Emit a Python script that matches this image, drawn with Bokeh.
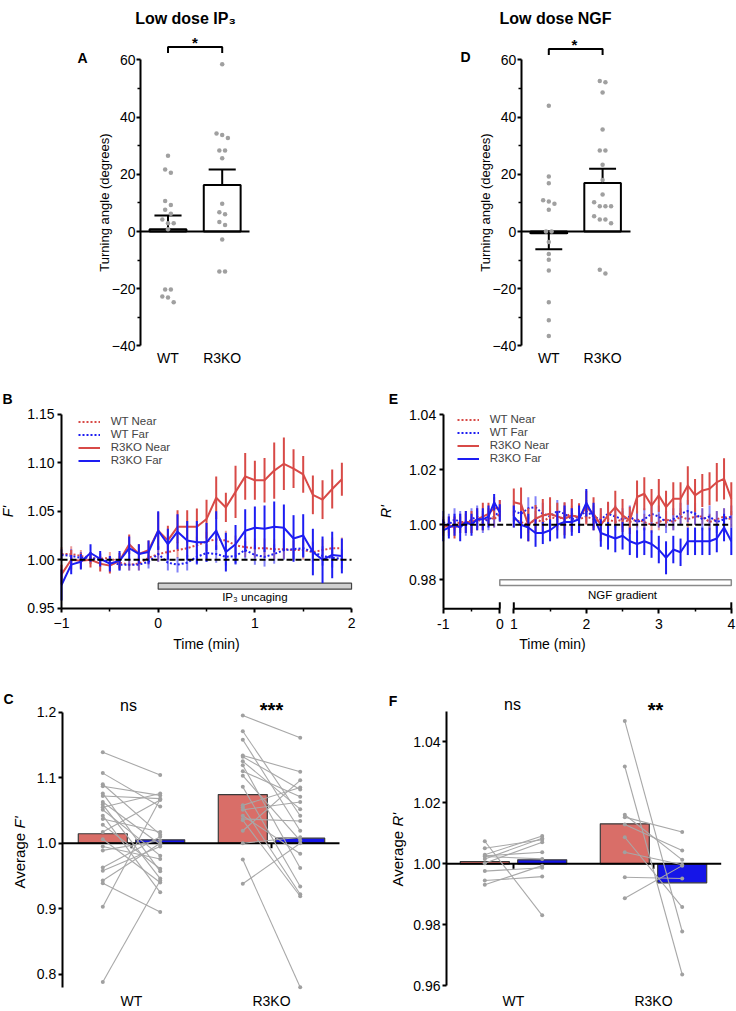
import math
from bokeh.plotting import figure
from bokeh.models import (Range1d, FixedTicker, Label, Legend, LegendItem, LinearAxis,
                          CustomJSTickFormatter, NumeralTickFormatter)
from bokeh.layouts import row, column
from bokeh.embed import file_html
from bokeh.resources import INLINE
from bokeh.core.properties import value

FONT = "Liberation Sans"
RED = "#d84a47"
BLUE = "#1d1df2"
BAR_RED = "#d96e68"
BAR_BLUE = "#1515e8"
DOT = "#a0a0a0"
PAIR = "#a8a8a8"

# ---------------- data ----------------
categories = ["WT", "R3KO"]
cat_x = [1, 2]

# A: low dose IP3, turning angle (degrees)
a_wt = [26.5, 21.7, 20.5, 10.7, 9.3, 7.6, 6.2, 4.2, 2.9, 2.9, 0.8,
        -20.3, -20.3, -22.7, -23.1, -24.7]
a_r3ko = [58.5, 34.3, 33.7, 32.7, 28.3, 28.3, 25.6, 9.7, 6.7, 6.0, 3.3, 2.3,
          -2.8, -14.0, -14.0]
a_mean = [0.8, 16.3]
a_sem = [4.8, 5.4]

# D: low dose NGF, turning angle (degrees)
d_wt = [44.0, 19.2, 16.9, 10.9, 10.5, 9.7, 7.6, 0.0, 0.0, -3.7, -7.9, -9.9,
        -13.6, -24.7, -31.0, -36.5]
d_r3ko = [52.6, 52.2, 48.6, 35.7, 28.3, 28.3, 23.3, 18.0, 12.9, 10.2, 8.8, 8.8,
          8.8, 5.3, 4.2, 4.2, 2.9, -13.4, -14.7]
d_mean = [-0.6, 17.0]
d_sem = [5.6, 4.9]

# B: F' time course (min)
t_b = [-1.0, -0.9, -0.8, -0.7, -0.6, -0.5, -0.4, -0.3, -0.2, -0.1, 0.0, 0.1,
       0.2, 0.3, 0.4, 0.5, 0.6, 0.7, 0.8, 0.9, 1.0, 1.1, 1.2, 1.3, 1.4, 1.5,
       1.6, 1.7, 1.8, 1.9]
b_wt_near = [1.006, 1.006, 1.004, 1.002, 1.001, 1.002, 0.997, 0.995, 0.996, 1.002,
             1.006, 1.008, 1.010, 1.012, 1.015, 1.019, 1.021, 1.020, 1.015, 1.013,
             1.012, 1.012, 1.011, 1.011, 1.010, 1.010, 1.008, 1.010, 1.012, 1.012]
b_wt_near_sem = [0.007, 0.008, 0.006, 0.006, 0.006, 0.006, 0.007, 0.006, 0.007, 0.007,
                 0.008, 0.008, 0.008, 0.009, 0.009, 0.010, 0.010, 0.010, 0.010, 0.010,
                 0.010, 0.010, 0.010, 0.010, 0.010, 0.010, 0.011, 0.011, 0.011, 0.011]
b_wt_far = [1.005, 1.004, 1.002, 1.002, 1.000, 0.998, 0.995, 0.995, 0.995, 0.998,
            1.006, 0.997, 0.995, 0.997, 1.003, 1.007, 1.006, 1.003, 1.004, 1.010,
            1.005, 1.003, 1.006, 1.010, 1.011, 1.012, 1.008, 1.004, 1.002, 1.001]
b_wt_far_sem = [0.006, 0.007, 0.006, 0.006, 0.006, 0.006, 0.006, 0.006, 0.006, 0.007,
                0.008, 0.008, 0.008, 0.008, 0.008, 0.009, 0.009, 0.009, 0.009, 0.009,
                0.010, 0.010, 0.010, 0.010, 0.010, 0.010, 0.010, 0.010, 0.010, 0.010]
b_ko_near = [0.985, 1.000, 0.999, 1.000, 0.996, 0.994, 0.999, 1.016, 1.006, 1.010,
             1.030, 1.020, 1.034, 1.034, 1.034, 1.042, 1.064, 1.054, 1.070, 1.086,
             1.082, 1.082, 1.092, 1.099, 1.094, 1.088, 1.067, 1.062, 1.073, 1.083]
b_ko_near_sem = [0.010, 0.010, 0.008, 0.008, 0.008, 0.008, 0.008, 0.010, 0.010, 0.010,
                 0.019, 0.015, 0.017, 0.017, 0.019, 0.020, 0.022, 0.015, 0.027, 0.024,
                 0.020, 0.023, 0.029, 0.027, 0.020, 0.019, 0.020, 0.020, 0.020, 0.017]
b_ko_far = [0.974, 0.995, 0.998, 1.007, 1.001, 0.996, 0.999, 1.012, 1.006, 1.008,
            1.030, 1.016, 1.029, 1.020, 1.018, 1.018, 1.030, 1.008, 1.016, 1.030,
            1.033, 1.032, 1.034, 1.033, 1.022, 1.025, 1.008, 1.000, 1.005, 1.004]
b_ko_far_sem = [0.016, 0.010, 0.008, 0.009, 0.008, 0.008, 0.010, 0.012, 0.010, 0.012,
                0.020, 0.016, 0.018, 0.020, 0.022, 0.020, 0.020, 0.020, 0.020, 0.022,
                0.022, 0.024, 0.026, 0.024, 0.024, 0.022, 0.024, 0.024, 0.024, 0.018]
uncaging = (0.0, 2.0)

# E: R' time course (min), broken axis between 0 and 1
t_e1 = [-1.0, -0.9, -0.8, -0.7, -0.6, -0.5, -0.4, -0.3, -0.2, -0.1, 0.0]
t_e2 = [1.0, 1.1, 1.2, 1.3, 1.4, 1.5, 1.6, 1.7, 1.8, 1.9, 2.0, 2.1, 2.2, 2.3,
        2.4, 2.5, 2.6, 2.7, 2.8, 2.9, 3.0, 3.1, 3.2, 3.3, 3.4, 3.5, 3.6, 3.7,
        3.8, 3.9, 4.0]
e_wt_near1 = [1.000, 0.999, 1.000, 1.001, 1.001, 1.000, 1.002, 1.001, 1.003, 1.002, 1.004]
e_wt_near2 = [1.002, 1.001, 1.000, 1.002, 1.001, 1.003, 1.002, 1.003, 1.004, 1.002,
              1.003, 1.002, 1.001, 1.002, 1.001, 1.002, 1.001, 1.002, 1.001, 1.000,
              1.001, 1.002, 1.001, 1.003, 1.002, 1.003, 1.003, 1.001, 1.002, 1.003, 1.002]
e_wt_near_sem1 = [0.003, 0.003, 0.003, 0.003, 0.003, 0.003, 0.003, 0.003, 0.003, 0.003, 0.003]
e_wt_near_sem2 = [0.003, 0.003, 0.003, 0.003, 0.003, 0.003, 0.003, 0.003, 0.003, 0.003,
                  0.003, 0.003, 0.003, 0.003, 0.003, 0.003, 0.003, 0.003, 0.003, 0.003,
                  0.003, 0.003, 0.003, 0.003, 0.003, 0.003, 0.003, 0.003, 0.003, 0.003, 0.003]
e_wt_far1 = [1.001, 1.000, 1.002, 1.001, 1.000, 1.002, 1.003, 1.001, 1.002, 1.003, 1.005]
e_wt_far2 = [1.005, 1.004, 1.006, 1.0064, 1.004, 1.003, 1.005, 1.004, 1.002, 1.003,
             1.005, 1.003, 1.002, 1.004, 1.003, 1.002, 1.003, 1.001, 1.002, 1.004,
             1.003, 1.001, 1.002, 1.004, 1.005, 1.004, 1.002, 1.003, 1.001, 1.002, 1.003]
e_wt_far_sem1 = [0.004, 0.004, 0.004, 0.004, 0.004, 0.004, 0.004, 0.004, 0.004, 0.004, 0.004]
e_wt_far_sem2 = [0.004, 0.004, 0.004, 0.004, 0.004, 0.004, 0.004, 0.004, 0.004, 0.004,
                 0.004, 0.004, 0.004, 0.004, 0.004, 0.004, 0.004, 0.004, 0.004, 0.004,
                 0.004, 0.004, 0.004, 0.004, 0.004, 0.004, 0.004, 0.004, 0.004, 0.004, 0.004]
e_ko_near1 = [0.999, 1.000, 0.999, 1.000, 1.001, 1.001, 1.002, 1.003, 1.004, 1.006, 1.006]
e_ko_near2 = [1.0082, 1.0076, 1.0000, 1.0022, 1.0034, 1.0040, 1.0030, 1.0022, 1.0034, 1.0028,
              1.0064, 1.0040, 1.0000, 1.0034, 1.0064, 1.0034, 1.0016, 1.0101, 1.0113, 1.0070,
              1.0107, 1.0064, 1.0095, 1.0095, 1.0143, 1.0107, 1.0125, 1.0131, 1.0155, 1.0167,
              1.0095]
e_ko_near_sem1 = [0.003, 0.003, 0.004, 0.003, 0.004, 0.004, 0.004, 0.005, 0.004, 0.004, 0.003]
e_ko_near_sem2 = [0.005, 0.006, 0.006, 0.005, 0.006, 0.006, 0.005, 0.006, 0.006, 0.005,
                  0.006, 0.006, 0.006, 0.005, 0.006, 0.006, 0.005, 0.006, 0.006, 0.006,
                  0.006, 0.006, 0.006, 0.006, 0.007, 0.006, 0.006, 0.006, 0.007, 0.0075, 0.006]
e_ko_far1 = [0.998, 0.999, 1.000, 0.999, 1.001, 1.000, 1.002, 1.002, 1.003, 1.0082, 1.0045]
e_ko_far2 = [1.003, 1.000, 0.999, 0.997, 0.997, 0.998, 1.000, 1.001, 1.001, 1.002,
             1.008, 1.003, 0.997, 0.996, 0.995, 0.996, 0.994, 0.993, 0.994, 0.993,
             0.991, 0.988, 0.991, 0.990, 0.994, 0.994, 0.994, 0.994, 0.995, 0.999, 0.994]
e_ko_far_sem1 = [0.004, 0.004, 0.004, 0.005, 0.004, 0.004, 0.004, 0.004, 0.004, 0.003, 0.003]
e_ko_far_sem2 = [0.004, 0.005, 0.005, 0.005, 0.004, 0.004, 0.005, 0.006, 0.005, 0.005,
                 0.005, 0.005, 0.005, 0.005, 0.005, 0.005, 0.005, 0.005, 0.005, 0.005,
                 0.005, 0.006, 0.005, 0.005, 0.005, 0.005, 0.005, 0.005, 0.005, 0.005, 0.005]
ngf_gradient = (0.0, 4.0)

# C: average F' per cell (paired near / far)
c_near_mean = [1.0144, 1.0743]
c_far_mean = [1.0052, 1.0076]
c_wt_near = [1.139, 1.107, 1.090, 1.087, 1.076, 1.072, 1.063, 1.059, 1.055, 1.051, 1.042,
             1.037, 1.028, 1.017, 1.006, 0.995, 0.989, 0.963, 0.958, 0.943, 0.939, 0.903, 0.788]
c_wt_far = [1.104, 1.056, 1.013, 1.073, 0.957, 1.068, 0.998, 0.946, 1.076, 0.981, 0.925,
            1.017, 0.961, 1.066, 0.940, 0.976, 1.004, 1.010, 0.995, 1.000, 0.895, 1.067, 0.943]
c_ko_near = [1.195, 1.171, 1.158, 1.134, 1.132, 1.125, 1.119, 1.110, 1.103, 1.086, 1.058,
             1.055, 1.051, 1.042, 1.037, 1.035, 1.019, 1.000, 0.975, 0.938]
c_ko_far = [1.161, 1.042, 1.019, 1.109, 1.082, 1.052, 0.962, 1.071, 1.004, 0.934, 1.085,
            0.922, 1.063, 0.984, 1.034, 0.919, 1.096, 1.009, 0.780, 1.000]

# F: average R' per cell (paired near / far)
f_near_mean = [1.00075, 1.0131]
f_far_mean = [1.0013, 0.99377]
f_wt_near = [1.0074, 1.0051, 1.0030, 1.0024, 1.0016, 1.0026, 1.0002, 0.9976, 0.9945, 0.9931]
f_wt_far = [0.9831, 1.0079, 1.0091, 1.0016, 1.0084, 1.0038, 1.0071, 0.9987, 0.9958, 0.9994]
f_ko_near = [1.0468, 1.0319, 1.0161, 1.0153, 1.0129, 1.0087, 1.0038, 0.9956, 0.9887]
f_ko_far = [0.9778, 0.9637, 1.0013, 1.0104, 1.0044, 0.9858, 0.9997, 0.9952, 0.9994]


# ---------------- helpers ----------------
def make_fig(canvas, xref, yref):
    """Figure whose frame fills the canvas; xref/yref = (pixel, value, px per unit)."""
    cx, cy, cw, ch = canvas
    xpx0, xv0, xs = xref
    ypx0, yv0, ys = yref
    xr = Range1d(xv0 + (cx - xpx0) / xs, xv0 + (cx + cw - xpx0) / xs)
    yr = Range1d(yv0 - (cy + ch - ypx0) / ys, yv0 + (ypx0 - cy) / ys)
    p = figure(width=cw, height=ch, x_range=xr, y_range=yr, title=None,
               x_axis_location=None, y_axis_location=None, min_border=0,
               output_backend="svg", toolbar_location=None, tools="")
    p.outline_line_color = None
    for g in p.grid:
        g.visible = False

    def pix(ix, iy):
        return xv0 + (ix - xpx0) / xs, yv0 + (ypx0 - iy) / ys
    return p, pix


def label(p, pix, ix, iy, text, size, style="normal", align="center",
          baseline="middle", angle=0.0):
    x, y = pix(ix, iy)
    p.add_layout(Label(x=x, y=y, text=text, text_font=FONT,
                       text_font_size=f"{size}px", text_font_style=style,
                       text_align=align, text_baseline=baseline, angle=angle,
                       text_color="black"))


def add_axis(p, side, loc, ticker, formatter=None, bounds=None, tick_out=4,
             minor_out=0, standoff=2, size=14, axis_label=None, label_standoff=5,
             label_style="normal", label_size=14, show_line=True, overrides=None):
    ax = LinearAxis(fixed_location=loc, ticker=ticker)
    if formatter is not None:
        ax.formatter = formatter
    if bounds is not None:
        ax.bounds = bounds
    ax.axis_line_width = 2
    ax.axis_line_color = "black" if show_line else None
    ax.major_tick_line_width = 2
    ax.minor_tick_line_width = 1.5
    ax.major_tick_in = 0
    ax.major_tick_out = tick_out
    ax.minor_tick_in = 0
    ax.minor_tick_out = minor_out
    if tick_out == 0:
        ax.major_tick_line_color = None
    if minor_out == 0:
        ax.minor_tick_line_color = None
    ax.major_label_standoff = standoff
    ax.major_label_text_font = FONT
    ax.major_label_text_font_size = f"{size}px"
    ax.major_label_text_color = "black"
    if overrides is not None:
        ax.major_label_overrides = overrides
    if axis_label is not None:
        ax.axis_label = axis_label
        ax.axis_label_text_font = FONT
        ax.axis_label_text_font_size = f"{label_size}px"
        ax.axis_label_text_font_style = label_style
        ax.axis_label_text_color = "black"
        ax.axis_label_standoff = label_standoff
    p.add_layout(ax, side)
    return ax


def category_axis(p, y_loc, standoff):
    return add_axis(p, "below", y_loc, FixedTicker(ticks=cat_x), tick_out=0,
                    standoff=standoff, show_line=False,
                    overrides={c: n for c, n in zip(cat_x, categories)})


def swarm(vals, cat, tol, step):
    order = sorted(range(len(vals)), key=lambda i: -vals[i])
    xs = [0.0] * len(vals)
    groups, cur = [], [order[0]]
    for i in order[1:]:
        if abs(vals[i] - vals[cur[-1]]) < tol:
            cur.append(i)
        else:
            groups.append(cur)
            cur = [i]
    groups.append(cur)
    for g in groups:
        n = len(g)
        for k, i in enumerate(g):
            xs[i] = cat + (k - (n - 1) / 2) * step
    return xs


# ---------------- A / D: turning angle ----------------
def angle_panel(canvas, xref, axis_px, zero_px, wt, ko, means, sems, title, title_px,
                letter, letter_px, bracket_px, star_px, label_standoff):
    p, pix = make_fig(canvas, xref, (231.0, 0.0, 2.86))
    x_axis = pix(axis_px, 0)[0]
    x_zero_end = pix(zero_px, 0)[0]
    add_axis(p, "left", x_axis,
             FixedTicker(ticks=[-40, -20, 0, 20, 40, 60], minor_ticks=[-30, -10, 10, 30, 50]),
             bounds=(-40, 60), tick_out=4, minor_out=3, standoff=1,
             axis_label="Turning angle (degrees)", label_size=13,
             label_standoff=label_standoff)
    category_axis(p, -40, 4)

    p.vbar(x=cat_x, top=means, bottom=0, width=0.68, fill_color="white",
           line_color="black", line_width=2)
    p.segment(x0=[x_axis], y0=[0], x1=[x_zero_end], y1=[0],
              line_color="black", line_width=2)
    ends = [m + (s if m >= 0 else -s) for m, s in zip(means, sems)]
    p.segment(x0=cat_x, y0=means, x1=cat_x, y1=ends, line_color="black", line_width=2)
    p.segment(x0=[c - 0.25 for c in cat_x], y0=ends, x1=[c + 0.25 for c in cat_x],
              y1=ends, line_color="black", line_width=2)
    for c, vals in zip(cat_x, [wt, ko]):
        xs = swarm(vals, c, 1.6, 0.105)
        p.scatter(xs, vals, size=4.5, color=DOT, line_color=None)
    _, yb_top = pix(0, bracket_px[0])
    _, yb_low = pix(0, bracket_px[1])
    p.line([cat_x[0], cat_x[0], cat_x[1], cat_x[1]], [yb_low, yb_top, yb_top, yb_low],
           line_color="black", line_width=2)
    label(p, pix, star_px[0], star_px[1], "*", 15, style="bold", baseline="alphabetic")
    label(p, pix, title_px[0], title_px[1], title, 16, style="bold")
    label(p, pix, letter_px[0], letter_px[1], letter, 14, style="bold")
    return p


pA = angle_panel((0, 0, 368, 375), (167.5, 1, 54.2), 140, 249,
                 a_wt, a_r3ko, a_mean, a_sem, "Low dose IP\u2083", (185, 18),
                 "A", (82, 57), (46.5, 52.5), (194.5, 42), -3)
pD = angle_panel((368, 0, 368, 375), (548.3, 1, 53.8), 520.7, 630,
                 d_wt, d_r3ko, d_mean, d_sem, "Low dose NGF", (555, 18),
                 "D", (465, 56), (48.5, 54.5), (574, 44), -3)


# ---------------- B / E: time courses ----------------
def add_series(p, xs, m, s, color, dash, err_alpha):
    lo = [a - b if not math.isnan(a) else a for a, b in zip(m, s)]
    hi = [a + b if not math.isnan(a) else a for a, b in zip(m, s)]
    p.segment(x0=xs, y0=lo, x1=xs, y1=hi, line_color=color, line_width=2,
              line_alpha=err_alpha)
    return p.line(xs, m, line_color=color, line_width=2, line_dash=dash,
                  line_join="round")


def add_legend(p, renderers, loc):
    names = ["WT Near", "WT Far", "R3KO Near", "R3KO Far"]
    leg = Legend(items=[LegendItem(label=n, renderers=[r]) for n, r in zip(names, renderers)],
                 location=loc, label_text_font=FONT, label_text_font_size="11.5px",
                 glyph_width=22, glyph_height=13, label_height=13, label_standoff=11,
                 spacing=0, padding=0, margin=0, border_line_color=None,
                 background_fill_alpha=0)
    p.add_layout(leg)


# B
pB, pixB = make_fig((0, 375, 368, 290), (157.7, 0.0, 96.67), (559.3, 1.0, 970.0))
add_axis(pB, "left", -1.0, FixedTicker(ticks=[0.95, 1.00, 1.05, 1.10, 1.15]),
         formatter=NumeralTickFormatter(format="0.00"), bounds=(0.95, 1.15),
         tick_out=4, standoff=3, axis_label="F'", label_style="italic", label_standoff=8)
add_axis(pB, "below", 0.95, FixedTicker(ticks=[-1, 0, 1, 2], minor_ticks=[-0.5, 0.5, 1.5]),
         bounds=(-1, 2), tick_out=4, minor_out=3, standoff=6,
         axis_label="Time (min)", label_standoff=4)

pB.quad(left=[uncaging[0]], right=[uncaging[1]], bottom=[0.9697], top=[0.9759],
        fill_color="#d0d0d0", line_color="#444444", line_width=1.2)
pB.text(x=[(uncaging[0] + uncaging[1]) / 2], y=[0.9614], text=["IP\u2083 uncaging"],
        text_font=value(FONT), text_font_size=value("11.5px"), text_align="center",
        text_baseline="middle", text_color="black")
rb1 = add_series(pB, t_b, b_wt_near, b_wt_near_sem, RED, "2 2", 0.55)
rb2 = add_series(pB, t_b, b_wt_far, b_wt_far_sem, BLUE, "2 2", 0.55)
rb3 = add_series(pB, t_b, b_ko_near, b_ko_near_sem, RED, "solid", 1.0)
rb4 = add_series(pB, t_b, b_ko_far, b_ko_far_sem, BLUE, "solid", 1.0)
pB.line([-1.0, 2.0], [1.0, 1.0], line_color="black", line_width=2, line_dash="6 3")
add_legend(pB, [rb1, rb2, rb3, rb4], (77.7, 198.2))
label(pB, pixB, 7, 398, "B", 14, style="bold")

# E with broken time axis: pre-period (-1..0) compressed, gap, then 1..4
R1 = 56.6 / 72.5
G = 14.0 / 72.5


def u_of(t):
    return t * R1 if t <= 0 else (t - 1.0) + G


pE, pixE = make_fig((368, 375, 368, 290), (499.3, 0.0, 72.5), (524.3, 1.0, 2750.0))
y_axis_line = pixE(0, 608.3)[1]
add_axis(pE, "left", u_of(-1.0), FixedTicker(ticks=[0.98, 1.00, 1.02, 1.04]),
         formatter=NumeralTickFormatter(format="0.00"), bounds=(y_axis_line, 1.04),
         tick_out=4, standoff=3, axis_label="R'", label_style="italic", label_standoff=12)
add_axis(pE, "below", y_axis_line,
         FixedTicker(ticks=[u_of(t) for t in [-1, 0, 1, 2, 3, 4]],
                     minor_ticks=[u_of(t) for t in [-0.5, 1.5, 2.5, 3.5]]),
         formatter=CustomJSTickFormatter(
             args=dict(r1=R1, g=G),
             code="const t = tick < 0.1 ? tick / r1 : tick - g + 1; return String(Math.round(t));"),
         tick_out=5, minor_out=3, standoff=5, show_line=False,
         axis_label="Time (min)", label_standoff=4)

cap = 6.5 / 2750.0
pE.segment(x0=[u_of(t_e1[0]), u_of(t_e2[0])], y0=[y_axis_line] * 2,
           x1=[u_of(t_e1[-1]), u_of(t_e2[-1])], y1=[y_axis_line] * 2,
           line_color="black", line_width=2)
cap_x = [u_of(t_e1[-1]), u_of(t_e2[0]), u_of(t_e2[-1])]
pE.segment(x0=cap_x, y0=[y_axis_line] * 3, x1=cap_x, y1=[y_axis_line + cap] * 3,
           line_color="black", line_width=2)

pE.quad(left=[u_of(ngf_gradient[0])], right=[u_of(ngf_gradient[1])], bottom=[0.9779],
        top=[0.9800], fill_color="white", line_color="#8a8a8a", line_width=1.5)
pE.text(x=[u_of(2.5)], y=[0.9745], text=["NGF gradient"], text_font=value(FONT),
        text_font_size=value("11.5px"), text_align="center", text_baseline="middle",
        text_color="black")
ue = [u_of(t) for t in t_e1] + [float("nan")] + [u_of(t) for t in t_e2]
nan = [float("nan")]
re1 = add_series(pE, ue, e_wt_near1 + nan + e_wt_near2, e_wt_near_sem1 + [0] + e_wt_near_sem2,
                 RED, "2 2", 0.55)
re2 = add_series(pE, ue, e_wt_far1 + nan + e_wt_far2, e_wt_far_sem1 + [0] + e_wt_far_sem2,
                 BLUE, "2 2", 0.55)
re3 = add_series(pE, ue, e_ko_near1 + nan + e_ko_near2, e_ko_near_sem1 + [0] + e_ko_near_sem2,
                 RED, "solid", 1.0)
re4 = add_series(pE, ue, e_ko_far1 + nan + e_ko_far2, e_ko_far_sem1 + [0] + e_ko_far_sem2,
                 BLUE, "solid", 1.0)
pE.line([u_of(-1.0), u_of(4.0)], [1.0, 1.0], line_color="black", line_width=2,
        line_dash="6 3")
add_legend(pE, [re1, re2, re3, re4], (88.7, 200.2))
label(pE, pixE, 393, 398, "E", 14, style="bold")


# ---------------- C / F: paired averages ----------------
def paired_panel(canvas, xref, yref, axis_px, ticks, fmt, bounds, near_mean, far_mean,
                 wt_near, wt_far, ko_near, ko_far, sig, sig_px, letter, letter_px,
                 ylab, ylab_px, zero_px, cat_standoff):
    p, pix = make_fig(canvas, xref, yref)
    x_axis = pix(axis_px, 0)[0]
    add_axis(p, "left", x_axis, FixedTicker(ticks=ticks),
             formatter=NumeralTickFormatter(format=fmt), bounds=bounds,
             tick_out=4, standoff=2)
    category_axis(p, bounds[0], cat_standoff)
    off, w = 0.205, 0.35
    p.vbar(x=[c - off for c in cat_x], top=near_mean, bottom=1.0, width=w,
           fill_color=BAR_RED, line_color="#3a3a3a", line_width=1.2)
    p.vbar(x=[c + off for c in cat_x], top=far_mean, bottom=1.0, width=w,
           fill_color=BAR_BLUE, line_color="#3a3a3a", line_width=1.2)
    p.segment(x0=[x_axis], y0=[1.0], x1=[pix(zero_px, 0)[0]], y1=[1.0],
              line_color="black", line_width=2)
    tick_len = (pix(0, 0)[1] - pix(0, 5)[1])
    p.segment(x0=cat_x, y0=[1.0] * 2, x1=cat_x, y1=[1.0 - tick_len] * 2,
              line_color="black", line_width=2)
    for c, nv, fv in [(cat_x[0], wt_near, wt_far), (cat_x[1], ko_near, ko_far)]:
        p.segment(x0=[c - off] * len(nv), y0=nv, x1=[c + off] * len(fv), y1=fv,
                  line_color=PAIR, line_width=1.1)
        p.scatter([c - off] * len(nv), nv, size=4, color=DOT, line_color=None)
        p.scatter([c + off] * len(fv), fv, size=4, color=DOT, line_color=None)
    label(p, pix, sig_px[0][0], sig_px[0][1], sig[0], 16, baseline="alphabetic")
    label(p, pix, sig_px[1][0], sig_px[1][1], sig[1], 20, style="bold", baseline="alphabetic")
    label(p, pix, letter_px[0], letter_px[1], letter, 14, style="bold")
    label(p, pix, ylab_px[0], ylab_px[1], "Average", 15, align="left", angle=math.pi / 2)
    label(p, pix, ylab_px[0], ylab_px[1] - 60, ylab, 15, style="italic", align="left",
          angle=math.pi / 2)
    return p


pC = paired_panel((0, 665, 368, 346), (131, 1, 140), (842.7, 1.0, 655), 61.7,
                  [0.8, 0.9, 1.0, 1.1, 1.2], "0.0", (0.78, 1.2), c_near_mean, c_far_mean,
                  c_wt_near, c_wt_far, c_ko_near, c_ko_far, ["ns", "***"],
                  [(128, 704.5), (271, 709.5)], "C", (8, 698), "F'", (19, 888), 339, 6)
pF = paired_panel((368, 665, 368, 346), (513, 1, 140), (863.3, 1.0, 3050), 446,
                  [0.96, 0.98, 1.00, 1.02, 1.04], "0.00", (0.96, 1.05), f_near_mean, f_far_mean,
                  f_wt_near, f_wt_far, f_ko_near, f_ko_far, ["ns", "**"],
                  [(512, 704), (655, 709.5)], "F", (392.5, 700), "R'", (397, 886), 720.7, 7)

layout = column(row(pA, pD), row(pB, pE), row(pC, pF))
open("out.html", "w").write(file_html(layout, INLINE))
